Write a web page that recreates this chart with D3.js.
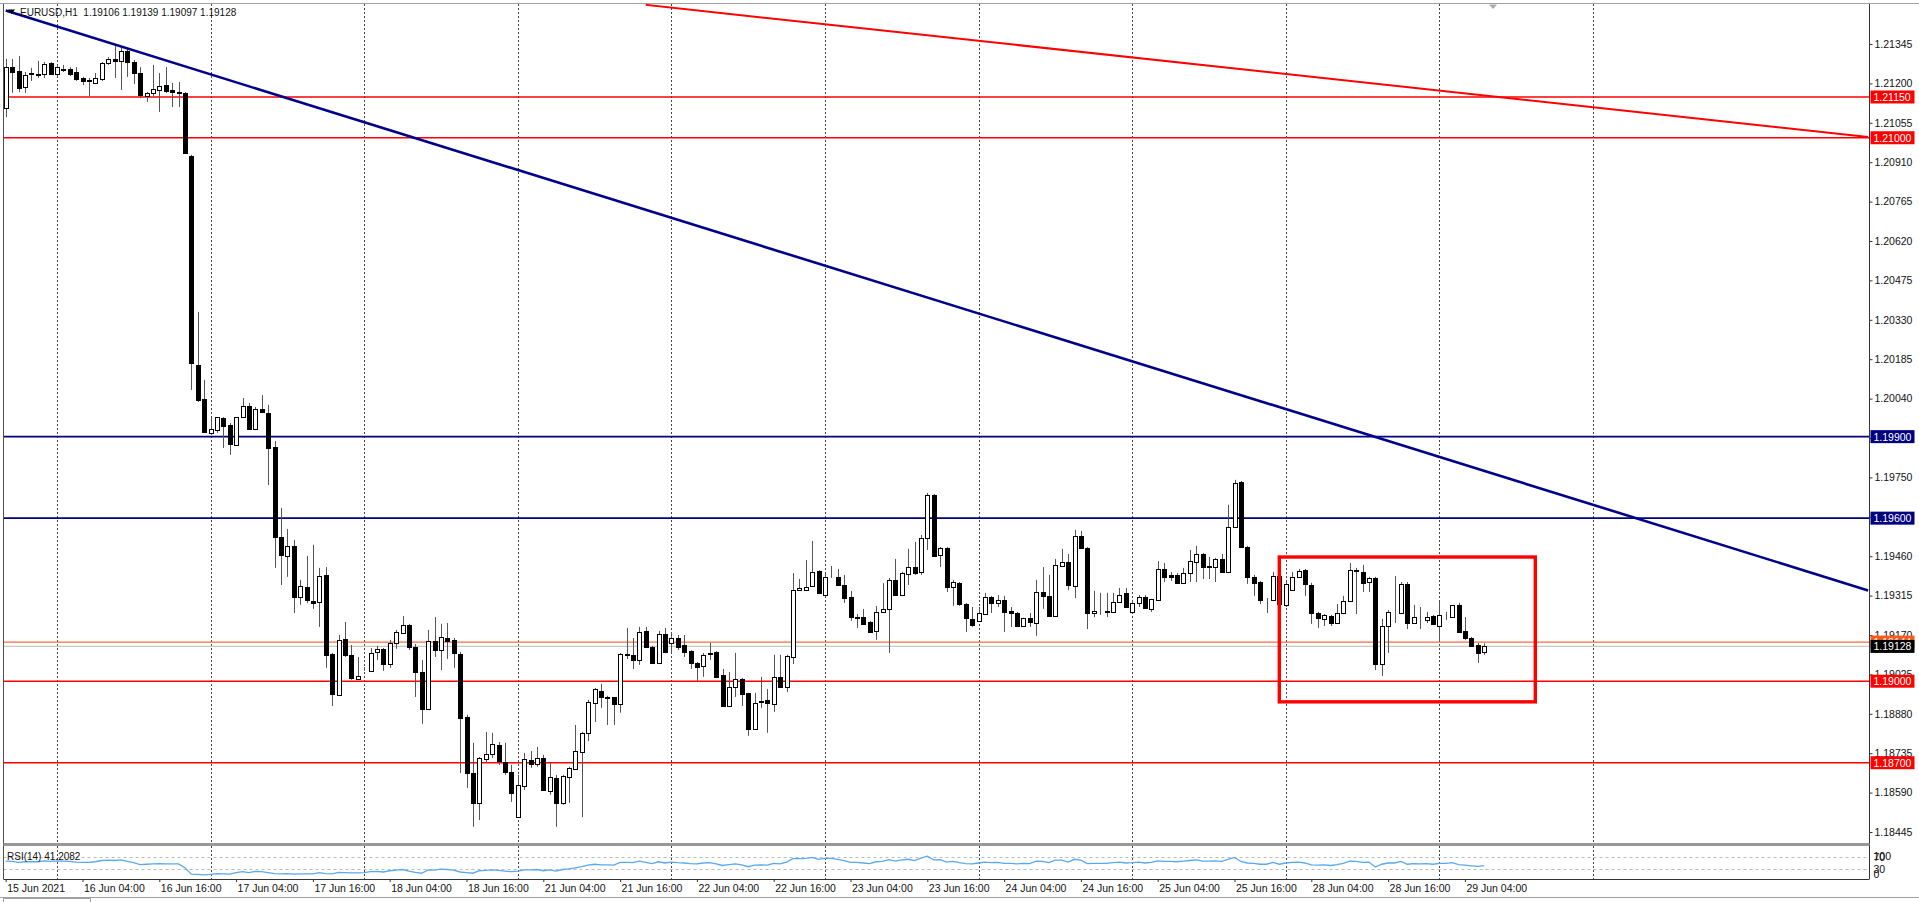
<!DOCTYPE html>
<html><head><meta charset="utf-8">
<script src="https://cdn.jsdelivr.net/npm/d3@7/dist/d3.min.js"></script>
<style>html,body{margin:0;padding:0;background:#fff;overflow:hidden}svg{display:block}text{font-family:"Liberation Sans",Arial,sans-serif}</style>
</head><body><svg id="c" width="1919" height="902"></svg>
<script>
const opens=[1.21110,1.21260,1.21246,1.21187,1.21235,1.21235,1.21235,1.21275,1.21235,1.21253,1.21253,1.21242,1.21220,1.21213,1.21202,1.21216,1.21275,1.21290,1.21283,1.21319,1.21279,1.21238,1.21154,1.21165,1.21176,1.21194,1.21176,1.21168,1.21165,1.20933,1.20164,1.20039,1.19914,1.19925,1.19969,1.19943,1.19869,1.19972,1.20013,1.19928,1.20002,1.19987,1.19862,1.19531,1.19461,1.19498,1.19310,1.19347,1.19295,1.19292,1.19391,1.19100,1.18950,1.19155,1.19097,1.19008,1.19041,1.19038,1.19108,1.19119,1.19063,1.19141,1.19178,1.19207,1.19126,1.19034,1.18898,1.19148,1.19115,1.19159,1.19152,1.19100,1.18868,1.18662,1.18552,1.18714,1.18732,1.18765,1.18703,1.18666,1.18500,1.18614,1.18710,1.18696,1.18718,1.18596,1.18644,1.18552,1.18648,1.18677,1.18740,1.18810,1.18920,1.18964,1.18942,1.18942,1.18917,1.19100,1.19097,1.19078,1.19185,1.19126,1.19067,1.19174,1.19141,1.19159,1.19133,1.19111,1.19067,1.19056,1.19100,1.19108,1.19023,1.18909,1.18979,1.19008,1.18957,1.18824,1.18924,1.18931,1.18917,1.19016,1.18979,1.19089,1.19336,1.19336,1.19351,1.19405,1.19317,1.19384,1.19384,1.19354,1.19310,1.19236,1.19236,1.19218,1.19185,1.19255,1.19266,1.19373,1.19317,1.19395,1.19420,1.19402,1.19527,1.19685,1.19465,1.19490,1.19347,1.19362,1.19284,1.19229,1.19222,1.19247,1.19310,1.19288,1.19299,1.19258,1.19251,1.19203,1.19233,1.19214,1.19328,1.19314,1.19240,1.19424,1.19439,1.19351,1.19535,1.19490,1.19251,1.19255,1.19258,1.19255,1.19292,1.19325,1.19255,1.19288,1.19310,1.19266,1.19299,1.19413,1.19391,1.19391,1.19362,1.19398,1.19439,1.19468,1.19424,1.19420,1.19450,1.19402,1.19568,1.19733,1.19494,1.19384,1.19365,1.19299,1.19299,1.19387,1.19281,1.19336,1.19384,1.19409,1.19354,1.19251,1.19229,1.19240,1.19214,1.19251,1.19295,1.19409,1.19402,1.19365,1.19380,1.19063,1.19203,1.19255,1.19251,1.19358,1.19214,1.19229,1.19225,1.19240,1.19203,1.19240,1.19236,1.19281,1.19185,1.19159,1.19133,1.19106];
const highs=[1.21290,1.21290,1.21301,1.21242,1.21257,1.21283,1.21279,1.21279,1.21268,1.21268,1.21260,1.21260,1.21224,1.21220,1.21238,1.21279,1.21297,1.21338,1.21334,1.21327,1.21286,1.21260,1.21168,1.21268,1.21238,1.21260,1.21202,1.21205,1.21168,1.20937,1.20359,1.20109,1.19969,1.19972,1.19972,1.19950,1.19972,1.20042,1.20024,1.20009,1.20053,1.20017,1.19884,1.19638,1.19560,1.19520,1.19373,1.19461,1.19502,1.19417,1.19420,1.19104,1.19170,1.19218,1.19133,1.19089,1.19052,1.19122,1.19130,1.19122,1.19152,1.19189,1.19240,1.19211,1.19137,1.19078,1.19189,1.19236,1.19211,1.19214,1.19159,1.19108,1.18876,1.18773,1.18721,1.18813,1.18810,1.18776,1.18773,1.18692,1.18655,1.18736,1.18743,1.18758,1.18729,1.18700,1.18655,1.18655,1.18685,1.18839,1.18813,1.18931,1.18975,1.18990,1.18946,1.18942,1.19104,1.19196,1.19159,1.19200,1.19200,1.19130,1.19185,1.19196,1.19178,1.19170,1.19170,1.19115,1.19071,1.19104,1.19141,1.19111,1.19045,1.19034,1.19104,1.19012,1.18957,1.18957,1.19016,1.18971,1.19097,1.19097,1.19097,1.19398,1.19376,1.19446,1.19516,1.19409,1.19395,1.19424,1.19413,1.19391,1.19332,1.19247,1.19266,1.19222,1.19277,1.19361,1.19380,1.19450,1.19402,1.19487,1.19513,1.19538,1.19693,1.19689,1.19494,1.19494,1.19373,1.19365,1.19288,1.19273,1.19273,1.19325,1.19314,1.19317,1.19314,1.19273,1.19255,1.19233,1.19251,1.19373,1.19420,1.19391,1.19450,1.19487,1.19468,1.19557,1.19553,1.19494,1.19332,1.19325,1.19325,1.19325,1.19343,1.19343,1.19299,1.19317,1.19317,1.19303,1.19442,1.19435,1.19402,1.19398,1.19417,1.19483,1.19498,1.19472,1.19457,1.19454,1.19468,1.19649,1.19741,1.19737,1.19498,1.19391,1.19369,1.19306,1.19402,1.19402,1.19373,1.19402,1.19413,1.19413,1.19362,1.19255,1.19247,1.19244,1.19284,1.19314,1.19435,1.19417,1.19428,1.19384,1.19384,1.19229,1.19262,1.19387,1.19365,1.19365,1.19281,1.19273,1.19255,1.19244,1.19292,1.19255,1.19281,1.19288,1.19236,1.19163,1.19141,1.19139];
const lows=[1.21076,1.21165,1.21168,1.21165,1.21209,1.21220,1.21220,1.21231,1.21224,1.21242,1.21227,1.21209,1.21194,1.21154,1.21198,1.21209,1.21268,1.21220,1.21176,1.21224,1.21198,1.21146,1.21132,1.21154,1.21095,1.21165,1.21113,1.21113,1.20940,1.20072,1.20028,1.19914,1.19906,1.19914,1.19858,1.19833,1.19866,1.19969,1.19925,1.19925,1.19987,1.19722,1.19417,1.19354,1.19384,1.19251,1.19281,1.19288,1.19266,1.19200,1.19049,1.18909,1.18946,1.19089,1.19005,1.19005,1.19038,1.19034,1.19078,1.19038,1.19049,1.19119,1.19174,1.19115,1.18942,1.18843,1.18894,1.19089,1.19041,1.19082,1.19049,1.18662,1.18607,1.18464,1.18489,1.18700,1.18718,1.18692,1.18655,1.18556,1.18500,1.18600,1.18681,1.18685,1.18596,1.18582,1.18464,1.18545,1.18552,1.18674,1.18500,1.18780,1.18850,1.18902,1.18839,1.18839,1.18884,1.19082,1.19045,1.19060,1.19126,1.19063,1.19063,1.19104,1.19104,1.19115,1.19089,1.19045,1.19001,1.19016,1.19078,1.19012,1.18905,1.18905,1.18942,1.18909,1.18799,1.18821,1.18902,1.18810,1.18887,1.18975,1.18960,1.19063,1.19332,1.19332,1.19351,1.19321,1.19314,1.19380,1.19351,1.19288,1.19222,1.19196,1.19207,1.19178,1.19152,1.19251,1.19104,1.19314,1.19314,1.19354,1.19391,1.19391,1.19483,1.19457,1.19420,1.19328,1.19277,1.19277,1.19181,1.19200,1.19218,1.19244,1.19251,1.19273,1.19181,1.19200,1.19200,1.19200,1.19200,1.19167,1.19266,1.19236,1.19236,1.19420,1.19336,1.19306,1.19487,1.19192,1.19236,1.19244,1.19236,1.19255,1.19288,1.19273,1.19251,1.19273,1.19269,1.19255,1.19295,1.19365,1.19369,1.19358,1.19358,1.19365,1.19365,1.19376,1.19376,1.19365,1.19402,1.19398,1.19568,1.19490,1.19358,1.19314,1.19284,1.19251,1.19295,1.19277,1.19273,1.19332,1.19380,1.19314,1.19211,1.19196,1.19203,1.19203,1.19211,1.19247,1.19292,1.19247,1.19328,1.19328,1.19041,1.19019,1.19104,1.19214,1.19251,1.19192,1.19214,1.19192,1.19214,1.19207,1.19144,1.19225,1.19236,1.19178,1.19152,1.19126,1.19067,1.19097];
const closes=[1.21260,1.21242,1.21183,1.21231,1.21238,1.21231,1.21271,1.21235,1.21260,1.21249,1.21235,1.21216,1.21209,1.21209,1.21220,1.21275,1.21290,1.21283,1.21319,1.21279,1.21238,1.21157,1.21165,1.21179,1.21191,1.21172,1.21168,1.21165,1.20944,1.20171,1.20035,1.19917,1.19928,1.19972,1.19939,1.19873,1.19972,1.20013,1.19928,1.20002,1.19991,1.19858,1.19531,1.19465,1.19498,1.19310,1.19351,1.19299,1.19288,1.19387,1.19097,1.18953,1.19152,1.19097,1.19012,1.19019,1.19042,1.19104,1.19119,1.19063,1.19141,1.19181,1.19207,1.19126,1.19034,1.18898,1.19148,1.19115,1.19163,1.19148,1.19104,1.18865,1.18662,1.18552,1.18718,1.18732,1.18769,1.18707,1.18666,1.18589,1.18618,1.18714,1.18696,1.18718,1.18600,1.18648,1.18552,1.18651,1.18681,1.18743,1.18810,1.18924,1.18971,1.18942,1.18939,1.18917,1.19100,1.19097,1.19078,1.19181,1.19126,1.19067,1.19174,1.19108,1.19159,1.19126,1.19108,1.19067,1.19052,1.19097,1.19104,1.19016,1.18909,1.18979,1.19008,1.18953,1.18824,1.18920,1.18927,1.18920,1.19016,1.18979,1.19093,1.19336,1.19343,1.19347,1.19402,1.19325,1.19384,1.19384,1.19354,1.19306,1.19236,1.19233,1.19211,1.19181,1.19255,1.19266,1.19373,1.19317,1.19398,1.19420,1.19398,1.19527,1.19685,1.19461,1.19490,1.19347,1.19365,1.19284,1.19233,1.19207,1.19251,1.19310,1.19288,1.19299,1.19255,1.19251,1.19203,1.19233,1.19218,1.19328,1.19314,1.19240,1.19428,1.19439,1.19354,1.19535,1.19490,1.19251,1.19258,1.19255,1.19255,1.19292,1.19317,1.19273,1.19288,1.19310,1.19269,1.19303,1.19413,1.19384,1.19384,1.19362,1.19398,1.19442,1.19468,1.19420,1.19420,1.19450,1.19402,1.19568,1.19730,1.19494,1.19384,1.19362,1.19299,1.19299,1.19387,1.19284,1.19358,1.19384,1.19405,1.19358,1.19251,1.19233,1.19244,1.19214,1.19251,1.19295,1.19409,1.19405,1.19362,1.19380,1.19063,1.19203,1.19255,1.19255,1.19358,1.19214,1.19236,1.19229,1.19236,1.19211,1.19244,1.19240,1.19281,1.19181,1.19159,1.19130,1.19104,1.19128];
const rsi=[56,55,52,54,54,54,57,55,57,56,55,53,52,52,54,58,59,58,60,55,51,45,46,47,48,47,47,47,35,14,13,12,13,16,15,14,19,22,19,23,22,19,16,15,16,14,15,15,15,19,16,15,20,19,18,18,19,22,23,21,25,27,29,24,20,17,28,27,30,29,27,21,19,17,25,26,28,26,24,22,24,28,28,29,25,28,24,29,31,34,38,43,46,44,44,43,52,52,51,56,52,48,54,50,53,51,50,48,47,50,51,47,42,45,47,44,38,43,44,43,49,47,53,64,64,65,68,62,65,65,62,58,52,52,50,48,54,55,61,56,60,62,58,66,72,60,61,53,55,51,48,47,50,53,51,52,49,49,47,49,48,56,55,51,59,59,53,62,59,48,49,49,49,51,53,50,51,53,50,52,57,55,55,54,56,58,60,56,56,57,55,62,68,55,50,49,46,46,52,46,50,52,53,50,44,43,44,42,45,49,56,55,52,53,37,46,50,50,55,46,48,47,48,46,49,49,51,45,43,41,39,41.2082];
const timeLabels=["15 Jun 2021","16 Jun 04:00","16 Jun 16:00","17 Jun 04:00","17 Jun 16:00","18 Jun 04:00","18 Jun 16:00","21 Jun 04:00","21 Jun 16:00","22 Jun 04:00","22 Jun 16:00","23 Jun 04:00","23 Jun 16:00","24 Jun 04:00","24 Jun 16:00","25 Jun 04:00","25 Jun 16:00","28 Jun 04:00","28 Jun 16:00","29 Jun 04:00"];
const timeLabelBars=[0,12,24,36,48,60,72,84,96,108,120,132,144,156,168,180,192,204,216,228];
const dayGridBars=[8,32,56,80,104,128,152,176,200,224,248];
const priceTicks=[1.21345,1.21200,1.21055,1.20910,1.20765,1.20620,1.20475,1.20330,1.20185,1.20040,1.19895,1.19750,1.19605,1.19460,1.19315,1.19170,1.19025,1.18880,1.18735,1.18590,1.18445];
const levelPrices=[1.21150,1.21000,1.19900,1.19600,1.19000,1.18700];
const levelColors=["#ff0000","#ff0000","#000080","#000080","#ff0000","#ff0000"];
const bidPrice=1.19128, askPrice=1.19144;
const rsiLevels=[100,70,30,0];
const blueTrend=[[0,1.21468],[291,1.19334]];
const redTrend=[[100,1.21489],[291,1.21003]];
const boxBars=[199,239], boxPrices=[1.19457,1.18924];
const title="EURUSD,H1  1.19106 1.19139 1.19097 1.19128";
const rsiTitle="RSI(14) 41.2082";

const W=1919,H=902;
const L=3.5,R=1869.5,mT=4,mB=843,rT=846,rB=879;
const svg=d3.select('#c');
const x=d3.scaleLinear().domain([0,231]).range([5.7,5.7+6.4*231]);
const y=d3.scaleLinear().domain([1.18445,1.21345]).range([832,44]);
const r=d3.scaleLinear().domain([0,100]).range([878.5,847.5]);
const FS=10.5;

const defs=svg.append('defs');
defs.append('clipPath').attr('id','mc').append('rect').attr('x',L).attr('y',mT).attr('width',R-L).attr('height',mB-mT);
defs.append('clipPath').attr('id','rc').append('rect').attr('x',L).attr('y',rT).attr('width',R-L).attr('height',rB-rT);

svg.append('rect').attr('width',W).attr('height',H).attr('fill','#fff');

// vertical day grid
[[mT,mB],[rT,rB]].forEach(([a,b])=>{
  svg.append('g').selectAll('line').data(dayGridBars).join('line')
    .attr('x1',d=>Math.round(x(d))+0.5).attr('x2',d=>Math.round(x(d))+0.5)
    .attr('y1',a).attr('y2',b).attr('stroke','#444').attr('stroke-width',1).attr('stroke-dasharray','2,2');
});
// rsi level dashes
svg.append('g').selectAll('line').data([70,30]).join('line')
  .attr('x1',L).attr('x2',R).attr('y1',d=>Math.round(r(d))+0.5).attr('y2',d=>Math.round(r(d))+0.5)
  .attr('stroke','#bbb').attr('stroke-dasharray','3,3');

const main=svg.append('g').attr('clip-path','url(#mc)');
main.selectAll('line.lv').data(levelPrices).join('line').attr('class','lv')
  .attr('x1',L).attr('x2',R).attr('y1',d=>y(d)).attr('y2',d=>y(d))
  .attr('stroke',(d,i)=>levelColors[i]).attr('stroke-width',1.6);
main.append('line').attr('x1',L).attr('x2',R).attr('y1',y(askPrice)).attr('y2',y(askPrice)).attr('stroke','#ff6a3a').attr('stroke-width',1.2);
main.append('line').attr('x1',L).attr('x2',R).attr('y1',y(bidPrice)).attr('y2',y(bidPrice)).attr('stroke','#c8c8c8').attr('stroke-width',1.2);

// candles
const idx=d3.range(opens.length);
const cg=main.append('g');
cg.selectAll('line.w').data(idx).join('line').attr('class','w')
  .attr('x1',i=>Math.round(x(i))+0.5).attr('x2',i=>Math.round(x(i))+0.5)
  .attr('y1',i=>y(highs[i])).attr('y2',i=>y(lows[i]))
  .attr('stroke','#555').attr('stroke-width',1);
cg.selectAll('rect.b').data(idx).join('rect').attr('class','b')
  .attr('x',i=>Math.round(x(i))-1.5).attr('width',4)
  .attr('y',i=>Math.round(y(Math.max(opens[i],closes[i])))+0.5)
  .attr('height',i=>Math.max(0,Math.round(y(Math.min(opens[i],closes[i])))-Math.round(y(Math.max(opens[i],closes[i])))))
  .attr('fill',i=>closes[i]>=opens[i]?'#fff':'#000')
  .attr('stroke','#000').attr('stroke-width',1);

// trendlines
const ln=d3.line().x(d=>x(d[0])).y(d=>y(d[1]));
main.append('path').attr('d',ln(blueTrend)).attr('stroke','#00008b').attr('stroke-width',2.6).attr('fill','none');
main.append('path').attr('d',ln(redTrend)).attr('stroke','#ff0000').attr('stroke-width',2).attr('fill','none');
main.append('rect').attr('x',x(boxBars[0])).attr('y',y(boxPrices[0]))
  .attr('width',x(boxBars[1])-x(boxBars[0])).attr('height',y(boxPrices[1])-y(boxPrices[0]))
  .attr('fill','none').attr('stroke','#ff0000').attr('stroke-width',3.4);

// rsi
svg.append('g').attr('clip-path','url(#rc)').append('path')
  .attr('d',d3.line().x((d,i)=>x(i)).y(d=>r(d))(rsi))
  .attr('fill','none').attr('stroke','#5aa8f0').attr('stroke-width',1.3);

// frame
svg.append('line').attr('x1',0).attr('x2',W).attr('y1',3.5).attr('y2',3.5).attr('stroke','#a0a0a0');
svg.append('line').attr('x1',L).attr('x2',L).attr('y1',mT).attr('y2',rB).attr('stroke','#505050');
svg.append('line').attr('x1',R).attr('x2',R).attr('y1',mT).attr('y2',rB).attr('stroke','#333');
svg.append('rect').attr('x',L).attr('y',mB).attr('width',R-L).attr('height',3).attr('fill','#999');
svg.append('line').attr('x1',L).attr('x2',R).attr('y1',rB+0.5).attr('y2',rB+0.5).attr('stroke','#333');
svg.append('line').attr('x1',0).attr('x2',W).attr('y1',897.5).attr('y2',897.5).attr('stroke','#a0a0a0');
svg.append('path').attr('d','M3.5,902V898.5H90.5V902').attr('fill','#fff').attr('stroke','#a0a0a0');

// price axis
const pa=svg.append('g').attr('transform',`translate(${R},0)`)
  .call(d3.axisRight(y).tickValues(priceTicks).tickFormat(d3.format('.5f')).tickSize(3).tickPadding(2));
pa.select('.domain').remove();
pa.selectAll('text').attr('font-size',FS).attr('font-family','"Liberation Sans",Arial,sans-serif').attr('fill','#111');
pa.selectAll('line').attr('stroke','#333');

// level labels
const labels=levelPrices.map((p,i)=>({p,c:levelColors[i]}));
labels.push({p:askPrice,c:'#ff5a1e'});
labels.push({p:bidPrice,c:'#000'});
const lg=svg.append('g');
labels.forEach(o=>{
  const yy=y(o.p);
  lg.append('rect').attr('x',R+1).attr('y',yy-6.5).attr('width',44).attr('height',13).attr('fill',o.c);
  lg.append('text').attr('x',R+4).attr('y',yy+4).attr('font-size',FS).attr('fill','#fff').text(d3.format('.5f')(o.p));
});

// time axis
const ta=svg.append('g').attr('transform',`translate(0,${rB})`)
  .call(d3.axisBottom(x).tickValues(timeLabelBars).tickFormat((d,i)=>timeLabels[i]).tickSize(3).tickPadding(3));
ta.select('.domain').remove();
ta.selectAll('text').attr('text-anchor','start').attr('dx',1).attr('font-size',FS).attr('font-family','"Liberation Sans",Arial,sans-serif').attr('fill','#111');
ta.selectAll('line').attr('stroke','#333');

// rsi axis labels (crowded, as in the pane)
svg.append('g').selectAll('text').data(rsiLevels).join('text')
  .attr('x',R+4).attr('y',d=>Math.min(rB-5,Math.max(rT+10,r(d)))+4).attr('font-size',FS).attr('fill','#111').text(d=>d);

// titles
svg.append('path').attr('d','M8,9.5L15,9.5L11.5,14Z').attr('fill','#000');
svg.append('text').attr('x',20).attr('y',16).attr('font-size',10).attr('fill','#111').style('white-space','pre').text(title);
svg.append('text').attr('x',7).attr('y',rT+14).attr('font-size',10).attr('fill','#111').text(rsiTitle);
svg.append('path').attr('d','M1489,4.5L1497,4.5L1493,9Z').attr('fill','#aaa');
</script></body></html>
